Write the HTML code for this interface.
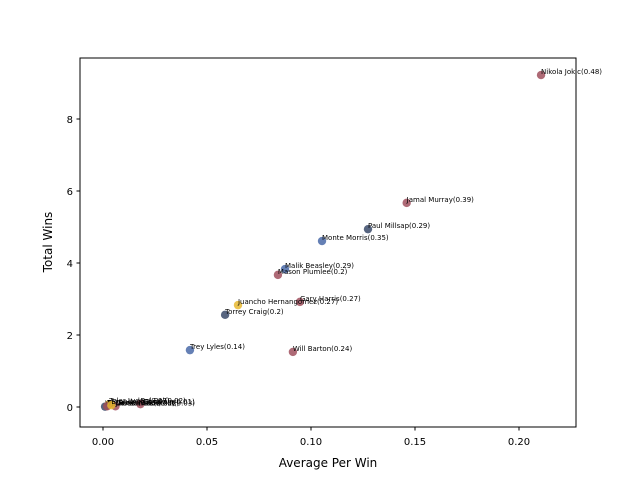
<!DOCTYPE html>
<html><head><meta charset="utf-8"><style>
body{margin:0;background:#fff;font-family:"DejaVu Sans","Liberation Sans",sans-serif}
</style></head><body>
<svg id="c" width="640" height="480" xmlns="http://www.w3.org/2000/svg" font-family="DejaVu Sans, Liberation Sans, sans-serif"></svg>
<script>
const names=["Nikola Jokic","Jamal Murray","Paul Millsap","Monte Morris","Malik Beasley","Mason Plumlee","Gary Harris","Juancho Hernangomez","Torrey Craig","Trey Lyles","Will Barton","Tyler Lydon","Jarred Vanderbilt","Bol Bol","PJ Dozier","Vlatko Cancar","Thomas Welsh","Brandon Goodwin"];
const ratings=["0.48","0.39","0.29","0.35","0.29","0.2","0.27","0.27","0.2","0.14","0.24","0.07","0.03","0.02","0.05","0.01","0.02","0.01"];
const avgPerWin=[0.2106,0.146,0.1274,0.1053,0.0875,0.0841,0.0947,0.0649,0.0587,0.0418,0.0913,0.003,0.006,0.018,0.002,0.001,0.002,0.004];
const totalWins=[9.22,5.67,4.94,4.61,3.83,3.67,2.92,2.83,2.56,1.58,1.53,0.08,0.02,0.08,0.03,0.01,0.02,0.05];
const colors=["#a0505e","#a0505e","#3a4a6a","#4a6aa8","#4a6aa8","#a0505e","#a0505e","#e8b830","#3a4a6a","#4a6aa8","#a0505e","#e8b830","#a0505e","#a0505e","#e8b830","#3a4a6a","#a0505e","#e8b830"];
const xTicks=[0,0.05,0.10,0.15,0.20];
const xTickLabels=["0.00","0.05","0.10","0.15","0.20"];
const yTicks=[0,2,4,6,8];
const L=80,R=576,T=58,B=427;
const X=v=>103+v*2080, Y=v=>407-v*36;
const s=document.getElementById('c'),NS="http://www.w3.org/2000/svg";
function mk(t,a,txt){const e=document.createElementNS(NS,t);for(const k in a)e.setAttribute(k,a[k]);if(txt!=null)e.textContent=txt;s.appendChild(e);return e;}
let e=mk('rect',{x:L,y:T,width:R-L,height:B-T,fill:'none',stroke:'#000','stroke-width':1});


xTicks.forEach((v,i)=>{const x=X(v);
e=mk('line',{x1:x,x2:x,y1:B,y2:B+3.5,stroke:'#000'});


e=mk('text',{x:x,y:B+18,'font-size':10,'text-anchor':'middle'},xTickLabels[i]);

});
yTicks.forEach(v=>{const y=Y(v);
e=mk('line',{x1:L-3.5,x2:L,y1:y,y2:y,stroke:'#000'});


e=mk('text',{x:L-7,y:y+4,'font-size':10,'text-anchor':'end'},v);

});
e=mk('text',{x:328,y:467,'font-size':12,'text-anchor':'middle'},'Average Per Win');


e=mk('text',{x:52,y:242,'font-size':12,'text-anchor':'middle',transform:'rotate(-90 52 242)'},'Total Wins');


names.forEach((n,i)=>{const x=X(avgPerWin[i]),y=Y(totalWins[i]);
e=mk('circle',{cx:x,cy:y,r:4.2,fill:colors[i],'fill-opacity':0.85});


e=mk('text',{x:x,y:y-1,'font-size':7},n+'('+ratings[i]+')');

});
</script>
</body></html>
